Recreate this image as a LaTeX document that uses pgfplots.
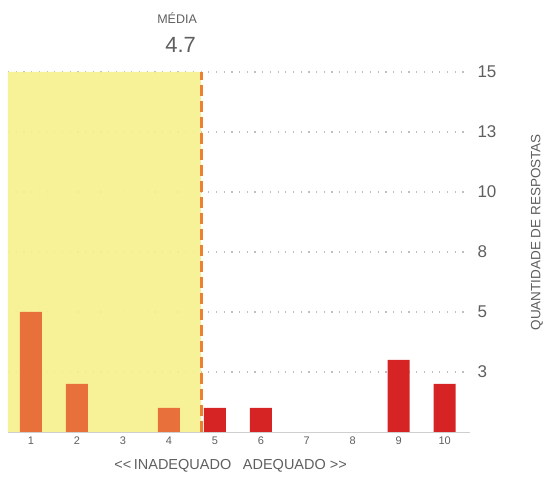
\documentclass[border=0pt]{standalone}
\usepackage{fontspec}
\setmainfont{Liberation Sans}
\usepackage{pgfplots}
\pgfplotsset{compat=1.18}
\definecolor{yel}{RGB}{246,241,140}
\definecolor{orb}{RGB}{232,112,58}
\definecolor{redb}{RGB}{214,36,36}
\definecolor{meanc}{RGB}{234,130,50}
\definecolor{txt}{RGB}{95,95,95}
\definecolor{grd}{RGB}{175,175,175}
\begin{document}
\begin{tikzpicture}
\path[use as bounding box] (-8pt,-45pt) rectangle (539pt,432pt);
\begin{axis}[
  at={(0pt,0pt)}, anchor=south west,
  scale only axis, width=462pt, height=360pt,
  xmin=0.5, xmax=10.55, ymin=0, ymax=15,
  axis x line*=bottom, axis y line*=right,
  x axis line style={draw=grd!60, line width=0.8pt},
  y axis line style={draw=none},
  xtick={1,...,10}, ytick={2.5,5,7.5,10,12.5,15},
  yticklabels={3,5,8,10,13,15},
  major tick length=0pt,
  ymajorgrids, grid style={draw=grd!80, line width=1.1pt, dash pattern=on 1.2pt off 6.5pt},
  yticklabel pos=right,
  /pgf/number format/assume math mode=true,
  xticklabel style={font=\fontsize{11}{12}\selectfont, text=txt, yshift=-1pt},
  yticklabel style={font=\fontsize{17}{18}\selectfont, text=txt, xshift=4pt},
  xlabel={\fontsize{14.5}{16}\selectfont {<}{<}\,INADEQUADO\hspace{0.8em}ADEQUADO {>}{>}},
  xlabel style={text=txt, at={(rel axis cs:0.482,0)}, anchor=center, yshift=-34pt},
  clip=false,
]
\addplot[fill=yel, fill opacity=0.9, draw=none] coordinates {(0.5,0) (0.5,15) (4.7,15) (4.7,0)} \closedcycle;
\addplot[ybar, bar width=22pt, bar shift=0pt, fill=orb, draw=none] coordinates {(1,5) (2,2) (4,1)};
\addplot[ybar, bar width=22pt, bar shift=0pt, fill=redb, draw=none] coordinates {(5,1) (6,1) (9,3) (10,2)};
\addplot[meanc, line width=3pt, dash pattern=on 11pt off 5pt] coordinates {(4.7,0) (4.7,15)};
\node[anchor=base east, text=txt, font=\fontsize{22}{24}\selectfont, inner sep=0pt] at (axis cs:4.7,15) [xshift=-5pt, yshift=19pt] {4.7};
\node[anchor=base east, text=txt, font=\fontsize{12.5}{14}\selectfont, inner sep=0pt] at (axis cs:4.7,15) [xshift=-4pt, yshift=48pt] {MÉDIA};
\node[rotate=90, text=txt, font=\fontsize{13.5}{15}\selectfont, anchor=center] at (rel axis cs:1.145,0.555) {QUANTIDADE DE RESPOSTAS};
\end{axis}
\end{tikzpicture}
\end{document}
